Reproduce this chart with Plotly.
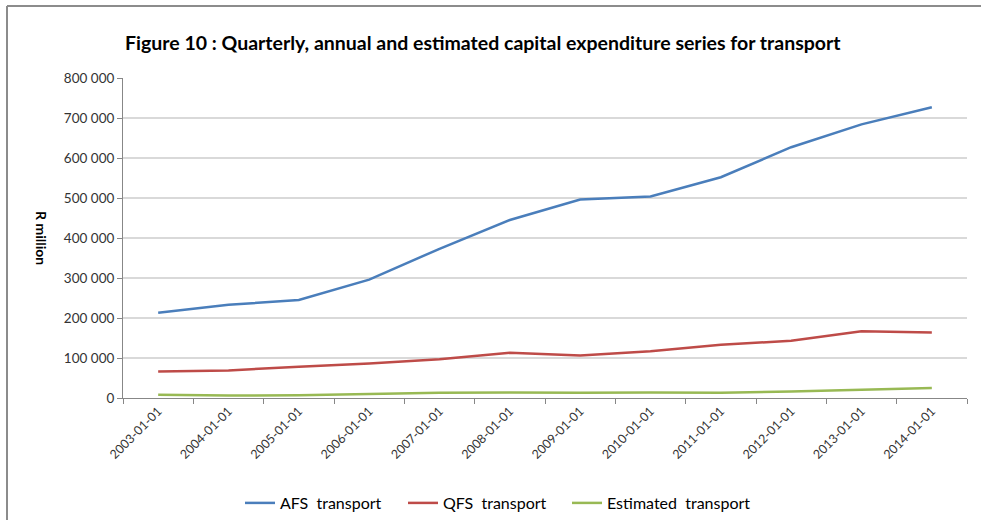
import plotly.graph_objects as go

categories = ["2003-01-01", "2004-01-01", "2005-01-01", "2006-01-01", "2007-01-01", "2008-01-01",
              "2009-01-01", "2010-01-01", "2011-01-01", "2012-01-01", "2013-01-01", "2014-01-01"]
afs = [213000, 233000, 245000, 296000, 373000, 445000, 496000, 504000, 552000, 627000, 684000, 727000]
qfs = [66000, 69000, 78000, 86000, 97000, 113000, 106000, 117000, 133000, 143000, 167000, 164000]
est = [8000, 6000, 7000, 10000, 13000, 14000, 13000, 14000, 13000, 16000, 20000, 25000]
y_ticks = [0, 100000, 200000, 300000, 400000, 500000, 600000, 700000, 800000]

series = [("AFS  transport", afs, "#4A7EBB", "legend", 240),
          ("QFS  transport", qfs, "#BE4B48", "legend2", 403),
          ("Estimated  transport", est, "#98B954", "legend3", 567)]

font = "Lato, Open Sans, sans-serif"

fig = go.Figure()
legends = {}
for name, vals, col, leg, lx in series:
    fig.add_trace(go.Scatter(x=categories, y=vals, name=name, mode="lines", legend=leg,
                             line=dict(color=col, width=2.5)))
    legends[leg] = dict(orientation="h", xref="container", yref="container",
                        x=lx/981, xanchor="left", y=1-503/520, yanchor="middle",
                        font=dict(family=font, size=16, color="black"), itemwidth=30,
                        bgcolor="rgba(0,0,0,0)")

fig.update_layout(
    width=981, height=520,
    margin=dict(l=123, r=14, t=78, b=122),
    paper_bgcolor="white", plot_bgcolor="white",
    separators=". ",
    font=dict(family=font, size=12, color="#333333"),
    title=dict(text="<b>Figure 10 : Quarterly, annual and estimated capital expenditure series for transport</b>",
               x=125/981, xanchor="left", y=1-43/520, yanchor="middle",
               font=dict(family=font, size=19.5, color="black")),
    showlegend=True,
    xaxis=dict(type="category", tickangle=-45, tickson="boundaries", ticks="outside",
               ticklen=5, tickcolor="#878787", showline=True, linecolor="#878787", linewidth=1,
               showgrid=False, tickfont=dict(family=font, size=12.5, color="#333333"),
               range=[-0.5, 11.5], automargin=False),
    yaxis=dict(range=[0, 800000], tickvals=y_ticks, tickformat=",d", ticks="outside",
               ticklen=5, tickcolor="#878787", showline=True, linecolor="#878787", linewidth=1,
               showgrid=True, gridcolor="#D9D9D9", gridwidth=1.5, zeroline=False,
               tickfont=dict(family=font, size=13.5, color="#333333"), automargin=False),
    annotations=[dict(text="<b>R million</b>", x=(42-123)/844, xref="paper", y=0.5, yref="paper",
                      textangle=90, showarrow=False, xanchor="center", yanchor="middle",
                      font=dict(family=font, size=14, color="black"))],
    shapes=[
        dict(type="line", xref="paper", yref="paper", x0=(7-123)/844, x1=1.1,
             y0=(398-6)/320, y1=(398-6)/320, line=dict(color="#8C8C8C", width=2)),
        dict(type="line", xref="paper", yref="paper", x0=(7-123)/844, x1=(7-123)/844,
             y0=(398-6)/320, y1=-0.5, line=dict(color="#8C8C8C", width=2)),
    ],
    **legends,
)

fig.write_html("out.html", config={"displayModeBar": False},
               post_script="document.body.style.margin='0px';document.body.style.overflow='hidden';")
